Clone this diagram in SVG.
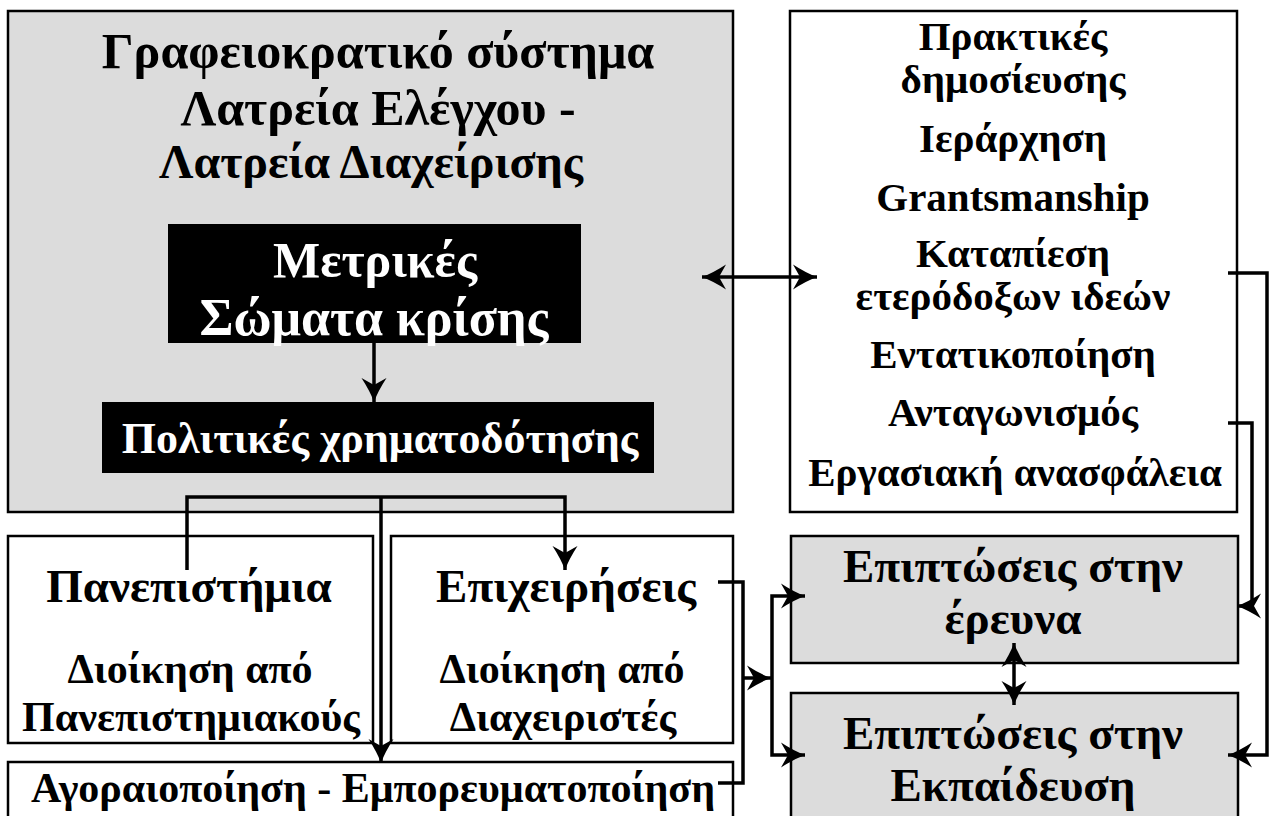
<svg xmlns="http://www.w3.org/2000/svg" width="1270" height="816" viewBox="0 0 1270 816">
<style>
  .box{stroke:#000;stroke-width:2.5}
  .gray{fill:#dcdcdc}
  .white{fill:#fff}
  .blk{fill:#000;stroke:none}
  text{font-family:"Liberation Serif","Times New Roman",serif;font-weight:bold;text-anchor:middle;fill:#000}
  .w{fill:#fff}
  .conn{fill:none;stroke:#000;stroke-width:3.5}
</style>
<defs>
  <marker id="ah" viewBox="-25 -14 27 28" refX="0" refY="0" markerWidth="27" markerHeight="28" markerUnits="userSpaceOnUse" orient="auto-start-reverse">
    <path d="M0,0 Q-11,-4 -24,-12.5 L-17,0 L-24,12.5 Q-11,4 0,0 Z" fill="#000"/>
  </marker>
</defs>
<rect width="1270" height="816" fill="#fff"/>

<g id="bureaucracy">
  <rect class="box gray" x="8" y="11" width="725" height="501"/>
  <text font-size="50" x="378" y="68">Γραφειοκρατικό σύστημα</text>
  <text font-size="50" x="378" y="125">Λατρεία Ελέγχου -</text>
  <text font-size="48" x="371" y="178">Λατρεία Διαχείρισης</text>
</g>
<g id="metrics">
  <rect class="blk" x="168" y="224" width="413" height="119"/>
  <text class="w" font-size="50" x="375" y="277">Μετρικές</text>
  <text class="w" font-size="52" x="374" y="335">Σώματα κρίσης</text>
</g>
<g id="funding">
  <rect class="blk" x="102" y="402" width="552" height="71"/>
  <text class="w" font-size="44" x="380" y="453">Πολιτικές χρηματοδότησης</text>
</g>
<g id="practices">
  <rect class="box white" x="790" y="11" width="447" height="501"/>
  <text font-size="41" x="1013" y="50">Πρακτικές</text>
  <text font-size="41" x="1013" y="93">δημοσίευσης</text>
  <text font-size="41" x="1013" y="152">Ιεράρχηση</text>
  <text font-size="41" x="1013" y="211">Grantsmanship</text>
  <text font-size="41" x="1013" y="267">Καταπίεση</text>
  <text font-size="41" x="1013" y="310">ετερόδοξων ιδεών</text>
  <text font-size="41" x="1013" y="368">Εντατικοποίηση</text>
  <text font-size="41" x="1013" y="426">Ανταγωνισμός</text>
  <text font-size="41" x="1015" y="486">Εργασιακή ανασφάλεια</text>
</g>
<g id="universities">
  <rect class="box white" x="8" y="536" width="365" height="207"/>
  <text font-size="47" x="189" y="602">Πανεπιστήμια</text>
  <text font-size="42" x="190" y="683">Διοίκηση από</text>
  <text font-size="42" x="191" y="731">Πανεπιστημιακούς</text>
</g>
<g id="businesses">
  <rect class="box white" x="391" y="536" width="342" height="207"/>
  <text font-size="47" x="566" y="602">Επιχειρήσεις</text>
  <text font-size="42" x="562" y="683">Διοίκηση από</text>
  <text font-size="42" x="563" y="731">Διαχειριστές</text>
</g>
<g id="marketization">
  <rect class="box white" x="8" y="762" width="725" height="60"/>
  <text font-size="42" x="373" y="802">Αγοραιοποίηση - Εμπορευματοποίηση</text>
</g>
<g id="research">
  <rect class="box gray" x="791" y="536" width="447" height="127"/>
  <text font-size="47" x="1013" y="582">Επιπτώσεις στην</text>
  <text font-size="47" x="1013" y="634">έρευνα</text>
</g>
<g id="education">
  <rect class="box gray" x="791" y="693" width="447" height="130"/>
  <text font-size="47" x="1013" y="749">Επιπτώσεις στην</text>
  <text font-size="47" x="1013" y="801">Εκπαίδευση</text>
</g>

<g id="connectors">
  <line class="conn" x1="702" y1="277" x2="817" y2="277" marker-start="url(#ah)" marker-end="url(#ah)"/>
  <line class="conn" x1="374" y1="343" x2="374" y2="402" marker-end="url(#ah)"/>
  <polyline class="conn" points="187,570 187,497 565,497 565,570" marker-end="url(#ah)"/>
  <line class="conn" x1="381" y1="497" x2="381" y2="763" marker-end="url(#ah)"/>
  <polyline class="conn" points="718,582 743,582 743,783 718,783"/>
  <line class="conn" x1="743" y1="678" x2="771" y2="678" marker-end="url(#ah)"/>
  <polyline class="conn" points="805,596 772,596 772,755 805,755" marker-start="url(#ah)" marker-end="url(#ah)"/>
  <line class="conn" x1="1014" y1="643" x2="1014" y2="705" marker-start="url(#ah)" marker-end="url(#ah)"/>
  <polyline class="conn" points="1228,273 1267,273 1267,755 1228,755" marker-end="url(#ah)"/>
  <polyline class="conn" points="1228,423 1252,423 1252,606 1237,606" marker-end="url(#ah)"/>
</g>
</svg>
